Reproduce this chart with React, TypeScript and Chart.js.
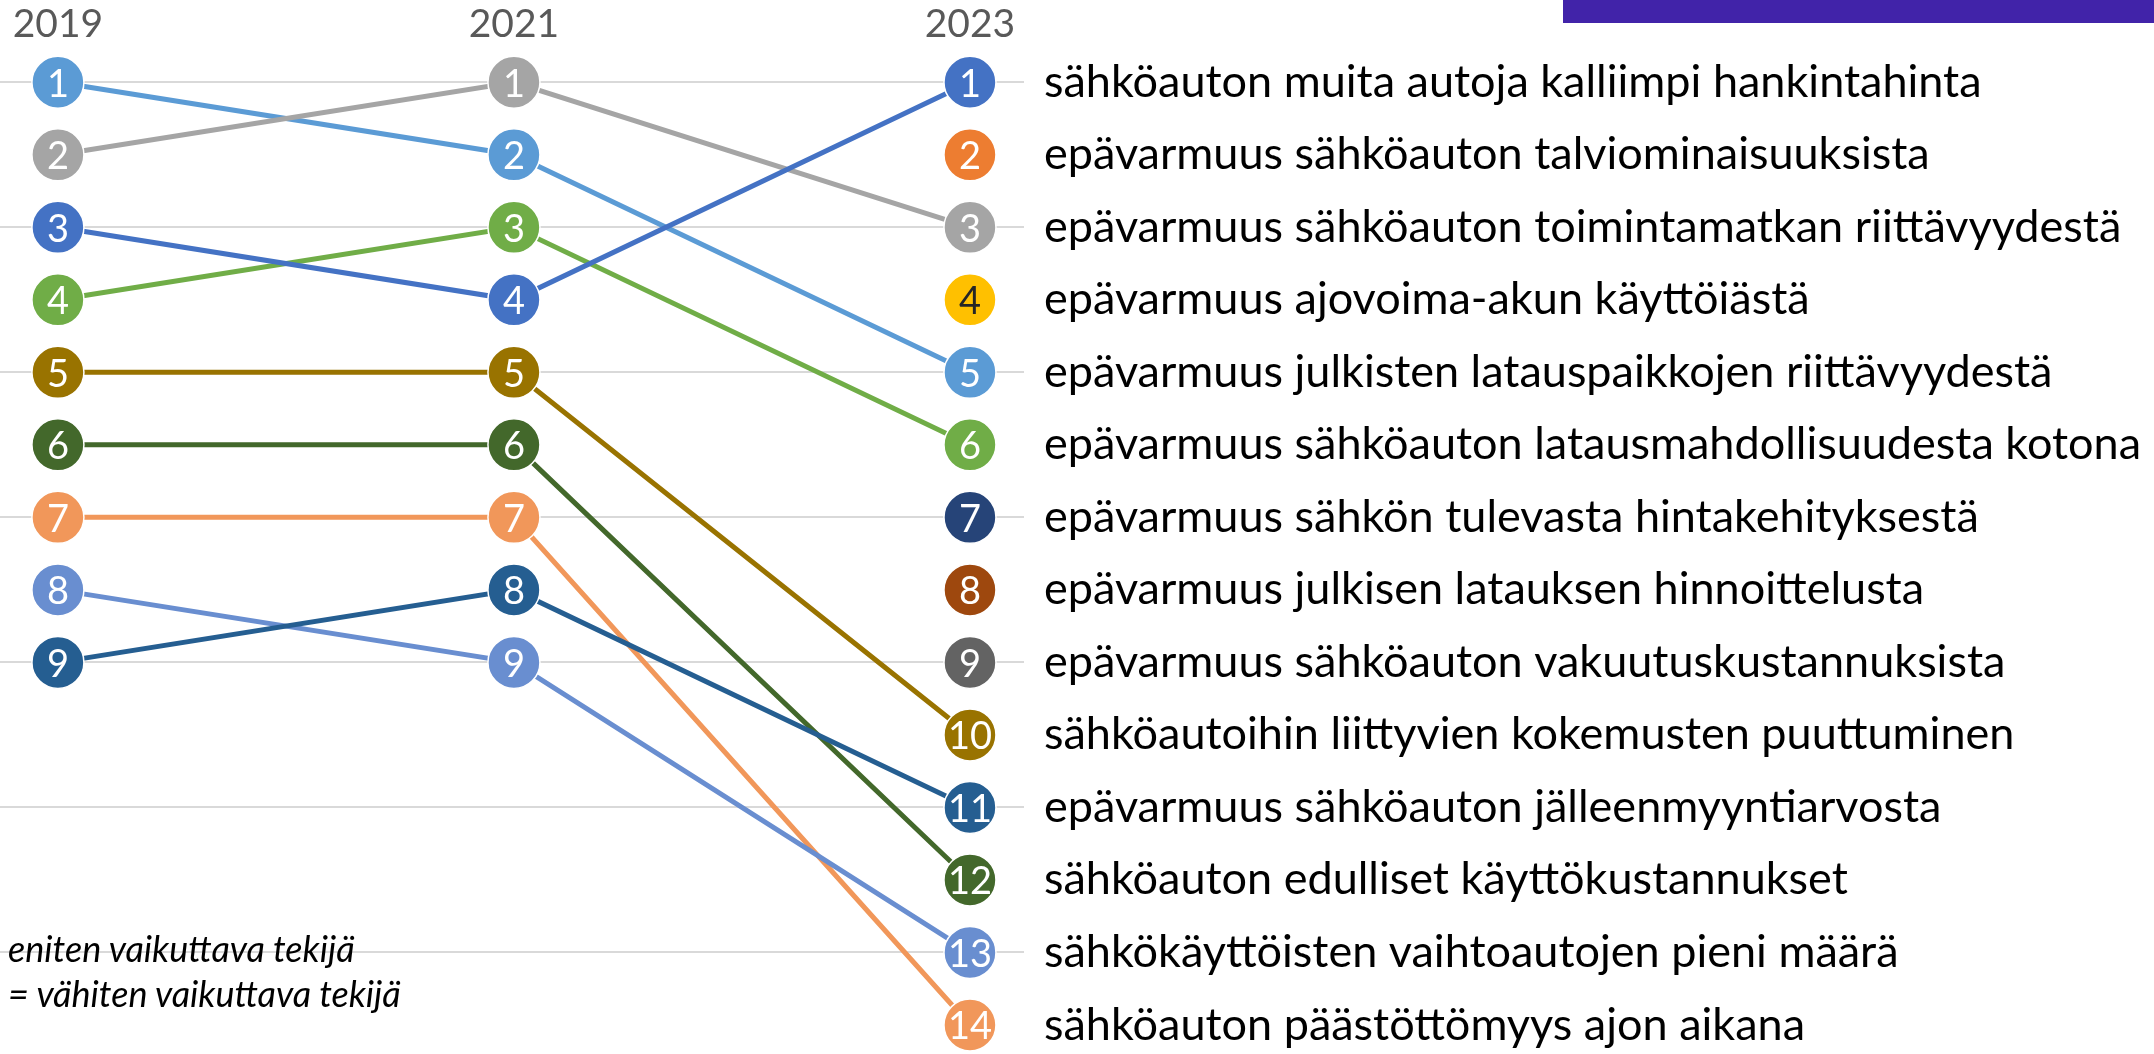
import React, { useEffect, useRef } from 'react';
import { Chart, registerables } from 'chart.js';

Chart.register(...registerables);

const W = 2154;
const H = 1054;

const years = [2019, 2021, 2023];

const factors = [
  'sähköauton muita autoja kalliimpi hankintahinta',
  'epävarmuus sähköauton talviominaisuuksista',
  'epävarmuus sähköauton toimintamatkan riittävyydestä',
  'epävarmuus ajovoima-akun käyttöiästä',
  'epävarmuus julkisten latauspaikkojen riittävyydestä',
  'epävarmuus sähköauton latausmahdollisuudesta kotona',
  'epävarmuus sähkön tulevasta hintakehityksestä',
  'epävarmuus julkisen latauksen hinnoittelusta',
  'epävarmuus sähköauton vakuutuskustannuksista',
  'sähköautoihin liittyvien kokemusten puuttuminen',
  'epävarmuus sähköauton jälleenmyyntiarvosta',
  'sähköauton edulliset käyttökustannukset',
  'sähkökäyttöisten vaihtoautojen pieni määrä',
  'sähköauton päästöttömyys ajon aikana',
];

const rank2019 = [3, null, 2, null, 1, 4, null, null, null, 5, 9, 6, 8, 7];
const rank2021 = [4, null, 1, null, 2, 3, null, null, null, 5, 8, 6, 9, 7];
const rank2023 = [1, 2, 3, 4, 5, 6, 7, 8, 9, 10, 11, 12, 13, 14];

const seriesColors = [
  '#4472C4', '#ED7D31', '#A5A5A5', '#FFC000', '#5B9BD5', '#70AD47', '#264478',
  '#9E480E', '#636363', '#997300', '#255E91', '#43682B', '#698ED0', '#F1975A',
];

const numberColors = seriesColors.map((c) => (c === '#FFC000' ? '#262626' : '#FFFFFF'));

const noteLines = ['eniten vaikuttava tekijä', '= vähiten vaikuttava tekijä'];

const pointNumbers = {
  id: 'pointNumbers',
  afterDatasetsDraw(chart: any) {
    const ctx = chart.ctx;
    ctx.save();
    ctx.font = '38px Lato';
    ctx.textAlign = 'center';
    ctx.textBaseline = 'middle';
    chart.data.datasets.forEach((ds: any, i: number) => {
      const meta = chart.getDatasetMeta(i);
      meta.data.forEach((el: any, j: number) => {
        const v = ds.data[j].y;
        if (v == null) return;
        ctx.fillStyle = numberColors[i];
        ctx.fillText(String(v), el.x, el.y + 2);
      });
    });
    ctx.restore();
  },
};

export default function App() {
  const canvasRef = useRef<HTMLCanvasElement | null>(null);

  useEffect(() => {
    if (!canvasRef.current) return;
    const ranksByYear = [rank2019, rank2021, rank2023];
    const chart = new Chart(canvasRef.current, {
      type: 'line',
      data: {
        datasets: factors.map((f, i) => ({
          label: f,
          data: years.map((yr, j) => ({ x: yr, y: ranksByYear[j][i] })),
          borderColor: seriesColors[i],
          backgroundColor: seriesColors[i],
          borderWidth: 5,
          pointRadius: 26,
          pointBackgroundColor: seriesColors[i],
          pointBorderColor: '#FFFFFF',
          pointBorderWidth: 1.5,
          spanGaps: false,
          clip: false as any,
        })),
      },
      options: {
        responsive: false,
        animation: false,
        events: [],
        layout: { padding: 0, autoPadding: false } as any,
        plugins: {
          legend: { display: false },
          tooltip: { enabled: false },
        },
        scales: {
          x: {
            type: 'linear',
            position: 'top',
            min: 2018.746,
            max: 2023.237,
            afterBuildTicks: (s: any) => {
              s.ticks = years.map((v) => ({ value: v }));
            },
            afterFit: (s: any) => {
              s.height = 46;
              s.paddingLeft = 0;
              s.paddingRight = 0;
            },
            ticks: {
              callback: (v: any) => String(v),
              font: { family: 'Lato', size: 39 },
              color: '#595959',
              padding: -2,
              autoSkip: false,
              maxRotation: 0,
            },
            grid: { display: false, drawTicks: false },
            border: { display: false },
          },
          y: {
            type: 'linear',
            position: 'right',
            reverse: true,
            min: 0.5,
            max: 14.4,
            afterBuildTicks: (s: any) => {
              s.ticks = rank2023.map((v) => ({ value: v }));
            },
            afterFit: (s: any) => {
              s.width = W - 1024;
              s.paddingTop = 0;
              s.paddingBottom = 0;
            },
            ticks: {
              callback: (v: any) => factors[Number(v) - 1],
              font: { family: 'Lato', size: 45 },
              color: '#000000',
              padding: 20,
              autoSkip: false,
            },
            grid: {
              color: (ctx: any) =>
                ctx.tick && ctx.tick.value % 2 === 1 ? '#D9D9D9' : 'rgba(0,0,0,0)',
              lineWidth: 2,
              drawTicks: false,
            },
            border: { display: false },
          },
        },
      } as any,
      plugins: [pointNumbers],
    });
    return () => chart.destroy();
  }, []);

  return (
    <div style={{ position: 'absolute', left: 0, top: 0, width: W, height: H, background: '#fff', overflow: 'hidden' }}>
      <canvas ref={canvasRef} width={W} height={H} style={{ position: 'absolute', left: 0, top: 0 }} />
      <div style={{ position: 'absolute', left: 1563, top: 0, width: W - 1563, height: 23, background: '#4123A9' }} />
      {noteLines.map((t, i) => (
        <div
          key={i}
          style={{
            position: 'absolute',
            left: 8,
            top: 926 + i * 45,
            fontFamily: 'Lato',
            fontStyle: 'italic',
            fontSize: 36,
            lineHeight: '44px',
            color: '#000',
            whiteSpace: 'nowrap',
          }}
        >
          {t}
        </div>
      ))}
    </div>
  );
}
